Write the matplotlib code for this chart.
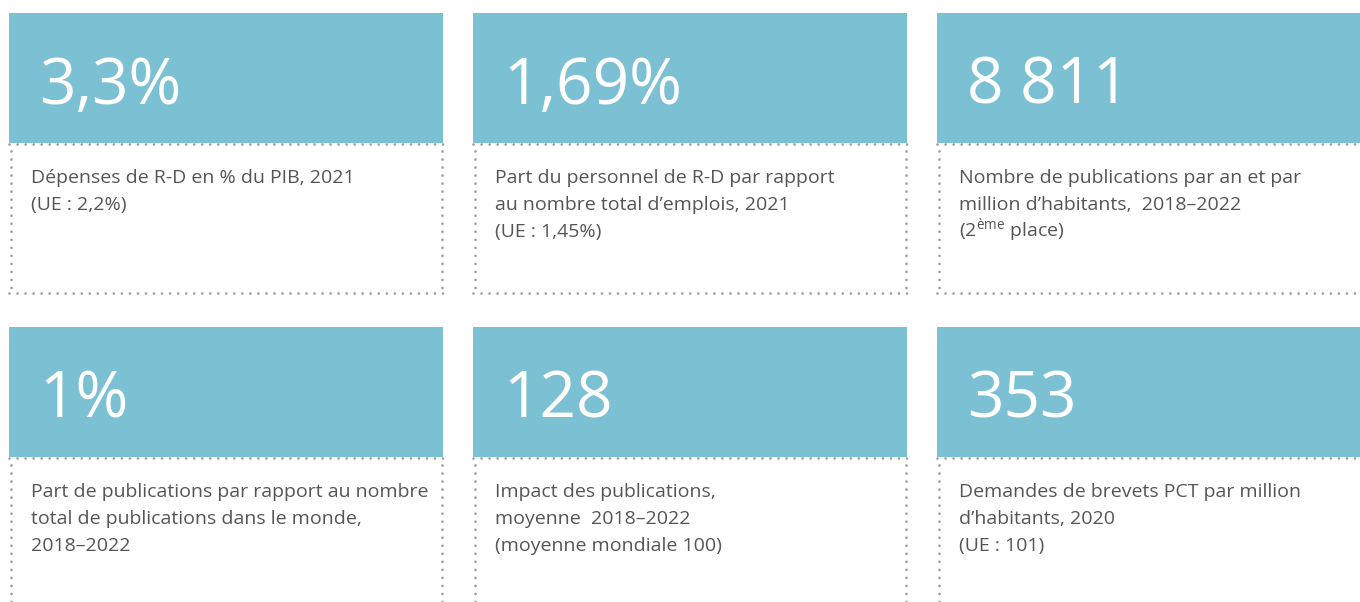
import matplotlib.pyplot as plt

plt.rcParams["font.family"] = ["Open Sans", "DejaVu Sans"]
plt.rcParams["mathtext.fontset"] = "custom"
plt.rcParams["mathtext.rm"] = "Open Sans"

TEAL = "#7bc1d3"
DOT = "#a0a0a0"
TEXT = "#555555"

values = ["3,3%", "1,69%", "8 811", "1%", "128", "353"]
descriptions = [
    "Dépenses de R-D en % du PIB, 2021\n(UE : 2,2%)",
    "Part du personnel de R-D par rapport\nau nombre total d’emplois, 2021\n(UE : 1,45%)",
    "Nombre de publications par an et par\nmillion d’habitants,  2018–2022\n(2$^{\\mathrm{ème}}$ place)",
    "Part de publications par rapport au nombre\ntotal de publications dans le monde,\n2018–2022",
    "Impact des publications,\nmoyenne  2018–2022\n(moyenne mondiale 100)",
    "Demandes de brevets PCT par million\nd’habitants, 2020\n(UE : 101)",
]

W, H = 1360, 602
fig = plt.figure(figsize=(W / 100, H / 100), dpi=100)
ax = fig.add_axes([0, 0, 1, 1])
ax.set_xlim(0, W)
ax.set_ylim(H, 0)
ax.axis("off")

col_x = [9, 473, 937]
card_w = 434
row_y = [13, 327]
teal_h = 130
box_h = 150


def dotted(xs, ys):
    ax.plot(xs, ys, color=DOT, lw=2.0, linestyle=(0, (0.01, 2.88)),
            solid_capstyle="round", dash_capstyle="round")


for i, (val, desc) in enumerate(zip(values, descriptions)):
    x0 = col_x[i % 3]
    y0 = row_y[i // 3]
    right = min(x0 + card_w, W + 5)
    ax.add_patch(plt.Rectangle((x0, y0), card_w, teal_h, color=TEAL, lw=0))
    ax.text(x0 + 30, y0 + 91, val, color="white", fontsize=46,
            va="baseline", ha="left")

    yb = y0 + teal_h
    bottom = yb + box_h
    dotted([x0, right], [yb + 1, yb + 1])
    dotted([x0 + 2, x0 + 2], [yb + 8, min(bottom, H + 5)])
    if x0 + card_w < W:
        dotted([x0 + card_w - 1, x0 + card_w - 1], [yb + 8, min(bottom, H + 5)])
    if bottom < H:
        dotted([x0, right], [bottom, bottom])

    for k, line in enumerate(desc.split("\n")):
        ax.text(x0 + 22, yb + 40 + 27 * k, line, color=TEXT, fontsize=14.0,
                va="baseline", ha="left")

fig.savefig("out.png", dpi=100, facecolor="white")
